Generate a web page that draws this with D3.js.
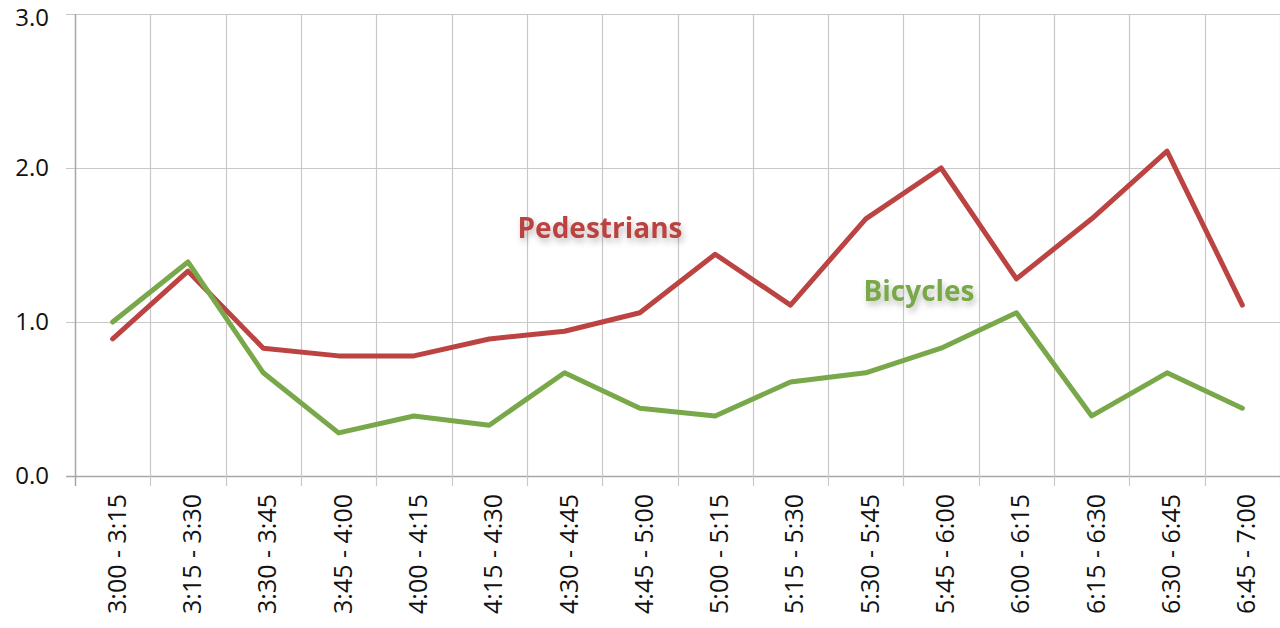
<!DOCTYPE html>
<html><head><meta charset="utf-8">
<script src="https://cdn.jsdelivr.net/npm/d3@7"></script>
<style>body{margin:0;background:#fff}svg{display:block}</style>
</head><body>
<svg id="c" width="1280" height="628"></svg>
<script>
const categories = ["3:00 - 3:15","3:15 - 3:30","3:30 - 3:45","3:45 - 4:00","4:00 - 4:15","4:15 - 4:30","4:30 - 4:45","4:45 - 5:00","5:00 - 5:15","5:15 - 5:30","5:30 - 5:45","5:45 - 6:00","6:00 - 6:15","6:15 - 6:30","6:30 - 6:45","6:45 - 7:00"];
const pedestrians = [0.89,1.33,0.83,0.78,0.78,0.89,0.94,1.06,1.44,1.11,1.67,2.00,1.28,1.67,2.11,1.11];
const bicycles = [1.00,1.39,0.67,0.28,0.39,0.33,0.67,0.44,0.39,0.61,0.67,0.83,1.06,0.39,0.67,0.44];
const yTicks = [0,1,2,3];
const seriesNames = ["Pedestrians","Bicycles"];

const font = "'Open Sans', 'DejaVu Sans', sans-serif";
const svg = d3.select("#c");
const L = 75, R = 1280, T = 14, B = 476;
const x = d3.scaleBand().domain(categories).range([L, R]).padding(0);
const y = d3.scaleLinear().domain([0, 3]).range([B, T]);

// horizontal gridlines
svg.append("g").selectAll("line").data(yTicks).join("line")
  .attr("x1", L - 9).attr("x2", R).attr("y1", d => y(d) + 0.5).attr("y2", d => y(d) + 0.5)
  .attr("stroke", d => d === 0 ? "#a6a6a6" : "#c8c8c8").attr("stroke-width", d => d === 0 ? 1.5 : 1.2);

// vertical gridlines at category boundaries
const bounds = categories.map(c => x(c)).concat([R]);
svg.append("g").selectAll("line").data(bounds.slice(1)).join("line")
  .attr("x1", d => Math.round(d) + 0.5).attr("x2", d => Math.round(d) + 0.5)
  .attr("y1", T).attr("y2", B + 10)
  .attr("stroke", "#c8c8c8").attr("stroke-width", 1.2);
// y axis line
svg.append("line").attr("x1", L + 0.5).attr("x2", L + 0.5).attr("y1", T).attr("y2", B + 10)
  .attr("stroke", "#a6a6a6").attr("stroke-width", 1.5);

// y labels
svg.append("g").selectAll("text").data(yTicks).join("text")
  .attr("x", 49).attr("y", d => Math.max(y(d) + 2, 20)).attr("text-anchor", "end")
  .attr("dominant-baseline", "middle")
  .attr("font-family", font).attr("font-size", 24).attr("fill", "#111")
  .text(d => d.toFixed(1));

// x labels rotated
svg.append("g").selectAll("text").data(categories).join("text")
  .attr("transform", d => `translate(${x(d) + x.bandwidth() / 2 + 13},${494}) rotate(-90)`)
  .attr("text-anchor", "end")
  .attr("font-family", font).attr("font-size", 25).attr("fill", "#111")
  .text(d => d);

const line = d3.line().x((d, i) => x(categories[i]) + x.bandwidth() / 2).y(d => y(d));
const colors = ["#bb4341", "#79a84a"];
[pedestrians, bicycles].forEach((s, k) => {
  svg.append("path").datum(s).attr("d", line).attr("fill", "none")
    .attr("stroke", colors[k]).attr("stroke-width", 5)
    .attr("stroke-linejoin", "round").attr("stroke-linecap", "round");
});

// drop shadow filter
const defs = svg.append("defs");
const f = defs.append("filter").attr("id", "sh").attr("x", "-10%").attr("y", "-30%").attr("width", "130%").attr("height", "180%");
f.append("feDropShadow").attr("dx", 2).attr("dy", 4).attr("stdDeviation", 3).attr("flood-color", "#000").attr("flood-opacity", 0.25);

const labelPos = [{x: 600, y: 238, size: 28}, {x: 919, y: 301, size: 28}];
seriesNames.forEach((n, k) => {
  svg.append("text").attr("x", labelPos[k].x).attr("y", labelPos[k].y)
    .attr("text-anchor", "middle").attr("font-family", font).attr("font-weight", "bold")
    .attr("font-size", labelPos[k].size).attr("fill", colors[k]).attr("filter", "url(#sh)")
    .text(n);
});
</script>
</body></html>
